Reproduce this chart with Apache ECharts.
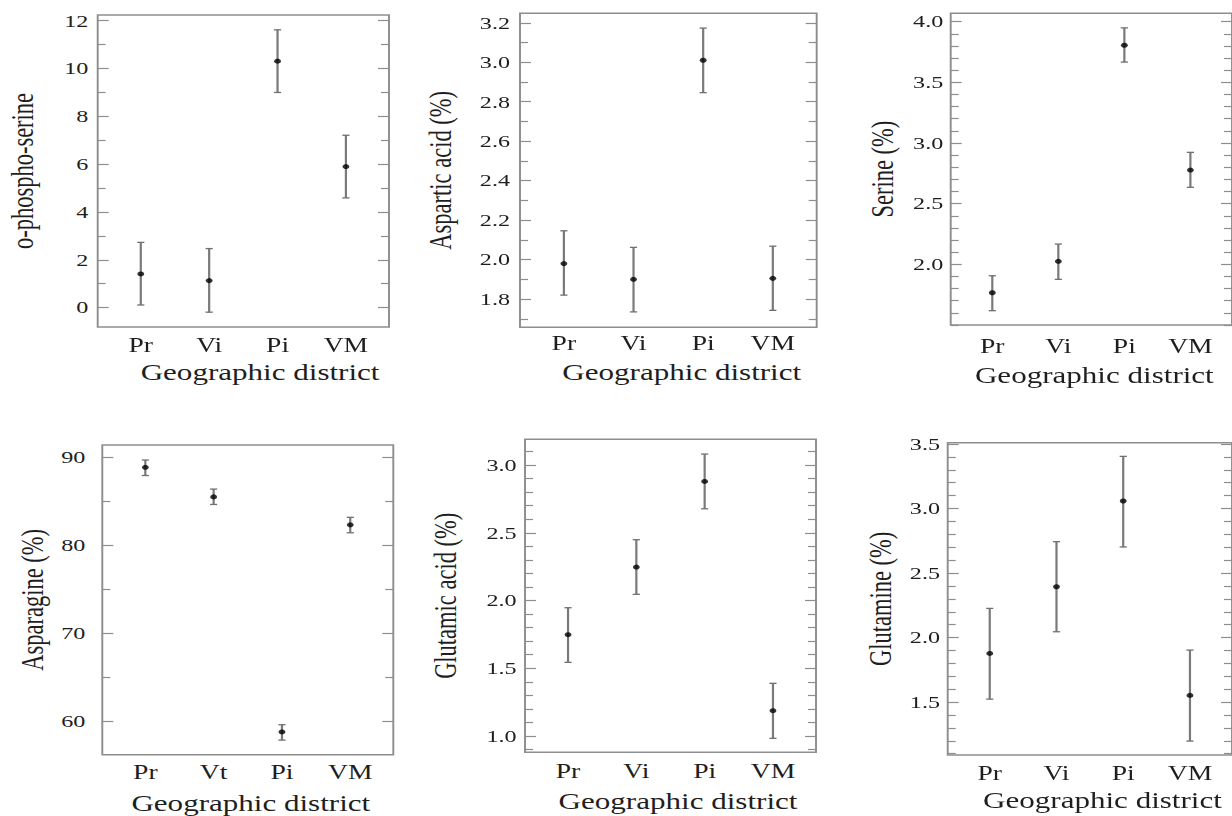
<!DOCTYPE html>
<html>
<head>
<meta charset="utf-8">
<script src="https://cdn.jsdelivr.net/npm/echarts@6/dist/echarts.min.js"></script>
<style>
  html, body { margin: 0; padding: 0; background: #fff; overflow: hidden; }
  #wrap { position: relative; width: 1232px; height: 816px; overflow: hidden; background: #fff; }
  #chart { position: absolute; left: 0; top: 0; height: 816px; transform-origin: 0 0; }
</style>
</head>
<body>
<div id="wrap"><div id="chart"></div></div>
<script>
// ---- data: mean and interval ends per geographic district ----
const districtsA = ['Pr', 'Vi', 'Pi', 'VM'];
const districtsB = ['Pr', 'Vt', 'Pi', 'VM'];

const phosphoSerineMean = [1.41, 1.13, 10.31, 5.90];
const phosphoSerineLow  = [0.11, -0.19, 9.00, 4.59];
const phosphoSerineHigh = [2.73, 2.47, 11.62, 7.21];
const phosphoSerineTicks = [0, 2, 4, 6, 8, 10, 12];

const asparticMean = [1.98, 1.90, 3.01, 1.905];
const asparticLow  = [1.82, 1.735, 2.846, 1.743];
const asparticHigh = [2.146, 2.062, 3.173, 2.068];
const asparticTicks = [1.8, 2.0, 2.2, 2.4, 2.6, 2.8, 3.0, 3.2];

const serineMean = [1.766, 2.025, 3.806, 2.777];
const serineLow  = [1.618, 1.876, 3.667, 2.635];
const serineHigh = [1.906, 2.167, 3.949, 2.923];
const serineTicks = [2.0, 2.5, 3.0, 3.5, 4.0];

const asparagineMean = [88.88, 85.52, 58.80, 82.34];
const asparagineLow  = [87.95, 84.66, 57.87, 81.44];
const asparagineHigh = [89.71, 86.41, 59.62, 83.20];
const asparagineTicks = [60, 70, 80, 90];

const glutamicMean = [1.748, 2.247, 2.879, 1.187];
const glutamicLow  = [1.544, 2.046, 2.677, 0.983];
const glutamicHigh = [1.947, 2.449, 3.081, 1.389];
const glutamicTicks = [1.0, 1.5, 2.0, 2.5, 3.0];

const glutamineMean = [1.877, 2.394, 3.058, 1.552];
const glutamineLow  = [1.523, 2.045, 2.702, 1.198];
const glutamineHigh = [2.226, 2.743, 3.404, 1.903];
const glutamineTicks = [1.5, 2.0, 2.5, 3.0, 3.5];

const xAxisTitle = 'Geographic district';

// ---- layout: the figure is drawn narrow and widened horizontally ----
const SX = 1.38;
const W = 1232, H = 816;

const panels = [
  { yName: 'o-phospho-serine', cats: districtsA, mean: phosphoSerineMean, low: phosphoSerineLow, high: phosphoSerineHigh,
    ticks: phosphoSerineTicks, minorStep: 1, dec: 0, yMin: -0.81, yMax: 12.24,
    frame: [97.7, 15, 389, 327], labelGap: 9.4, catGap: 12, nameGap: 38, nameShift: 16.7, yNameGap: 57.7 },
  { yName: 'Aspartic acid (%)', cats: districtsA, mean: asparticMean, low: asparticLow, high: asparticHigh,
    ticks: asparticTicks, minorStep: 0.1, dec: 1, yMin: 1.657, yMax: 3.248,
    frame: [520, 13.3, 816.7, 327.3], labelGap: 10, catGap: 9.4, nameGap: 37.7, nameShift: 13.4, yNameGap: 62 },
  { yName: 'Serine (%)', cats: districtsA, mean: serineMean, low: serineLow, high: serineHigh,
    ticks: serineTicks, minorStep: 0.1, dec: 1, yMin: 1.5, yMax: 4.069,
    frame: [950.7, 13.3, 1242, 325], labelGap: 7.4, catGap: 15, nameGap: 43, nameShift: 3, yNameGap: 50.7 },
  { yName: 'Asparagine (%)', cats: districtsB, mean: asparagineMean, low: asparagineLow, high: asparagineHigh,
    ticks: asparagineTicks, minorStep: 5, dec: 0, yMin: 56.2, yMax: 91.42,
    frame: [102.3, 445, 393.3, 759], labelGap: 17, catGap: 11, nameGap: 41, nameShift: 3, yNameGap: 52.3 },
  { yName: 'Glutamic acid (%)', cats: districtsA, mean: glutamicMean, low: glutamicLow, high: glutamicHigh,
    ticks: glutamicTicks, minorStep: 0.1, dec: 1, yMin: 0.88, yMax: 3.19,
    frame: [525, 439.3, 816, 752.3], labelGap: 8.3, catGap: 12.7, nameGap: 41.7, nameShift: 7.5, yNameGap: 61.7 },
  { yName: 'Glutamine (%)', cats: districtsA, mean: glutamineMean, low: glutamineLow, high: glutamineHigh,
    ticks: glutamineTicks, minorStep: 0.1, dec: 1, yMin: 1.09, yMax: 3.51,
    frame: [947.7, 442.7, 1238.7, 755], labelGap: 7.7, catGap: 11.7, nameGap: 38, nameShift: 12.6, yNameGap: 49.4 }
];

const FONT = '"Liberation Serif", "Times New Roman", serif';
const TEXT = '#1e1e1e';
const FRAME = '#8e8e8e';
const TICK_FONT = 17.5, CAT_FONT = 20, NAME_FONT = 22.5;
const MAJOR_LEN = 11 / SX, MINOR_LEN = 8 / SX;

function minorValues(p) {
  const out = [];
  const start = Math.ceil(p.yMin / p.minorStep - 1e-9);
  for (let k = start; k * p.minorStep <= p.yMax + 1e-9; k++) {
    const v = +(k * p.minorStep).toFixed(6);
    if (!p.ticks.some(t => Math.abs(t - v) < 1e-6)) out.push(v);
  }
  return out;
}

function errorBar(params, api) {
  const x = api.value(0);
  const lo = api.coord([x, api.value(1)]);
  const hi = api.coord([x, api.value(2)]);
  const cap = 2.6;
  const capStyle = { stroke: '#707070', lineWidth: 1.3 };
  return {
    type: 'group',
    children: [
      { type: 'line', shape: { x1: lo[0], y1: lo[1], x2: hi[0], y2: hi[1] }, style: { stroke: '#7a7a7a', lineWidth: 1.6 } },
      { type: 'line', shape: { x1: hi[0] - cap, y1: hi[1], x2: hi[0] + cap, y2: hi[1] }, style: capStyle },
      { type: 'line', shape: { x1: lo[0] - cap, y1: lo[1], x2: lo[0] + cap, y2: lo[1] }, style: capStyle }
    ]
  };
}

const grid = [], xAxis = [], yAxis = [], series = [];

panels.forEach((p, i) => {
  const [L, T, R, B] = p.frame;
  grid.push({
    left: L / SX, top: T, width: (R - L) / SX, height: B - T,
    show: true, borderColor: FRAME, borderWidth: 1.4, backgroundColor: 'transparent'
  });

  const cats = p.cats;
  xAxis.push({
    gridIndex: i, type: 'value', min: 0.37, max: 4.63,
    axisLine: { show: false }, axisTick: { show: false }, splitLine: { show: false },
    axisLabel: {
      customValues: [1, 2, 3, 4],
      formatter: v => cats[Math.round(v) - 1],
      fontFamily: FONT, fontSize: CAT_FONT, color: TEXT, margin: p.catGap - 3.4
    },
    name: xAxisTitle, nameLocation: 'middle', nameGap: p.nameGap - 3.8,
    nameTextStyle: { fontFamily: FONT, fontSize: NAME_FONT, color: TEXT, padding: [0, 0, 0, 2 * p.nameShift / SX] }
  });

  const minors = minorValues(p);
  const base = { gridIndex: i, type: 'value', min: p.yMin, max: p.yMax, splitLine: { show: false }, axisLine: { show: false } };
  const dec = p.dec;
  // left: major ticks with labels and the axis title
  yAxis.push(Object.assign({}, base, {
    position: 'left',
    axisTick: { show: true, inside: true, length: MAJOR_LEN, customValues: p.ticks, lineStyle: { color: FRAME, width: 1.2 } },
    axisLabel: { customValues: p.ticks, formatter: v => v.toFixed(dec), fontFamily: FONT, fontSize: TICK_FONT, color: TEXT, margin: p.labelGap / SX },
    name: p.yName, nameLocation: 'middle', nameGap: p.yNameGap / SX + 1,
    nameTextStyle: { fontFamily: FONT, fontSize: NAME_FONT, color: TEXT }
  }));
  // left: minor ticks
  yAxis.push(Object.assign({}, base, {
    position: 'left',
    axisTick: { show: true, inside: true, length: MINOR_LEN, customValues: minors, lineStyle: { color: FRAME, width: 1.2 } },
    axisLabel: { show: false }
  }));
  // right: mirrored major and minor ticks
  yAxis.push(Object.assign({}, base, {
    position: 'right',
    axisTick: { show: true, inside: true, length: MAJOR_LEN, customValues: p.ticks, lineStyle: { color: FRAME, width: 1.2 } },
    axisLabel: { show: false }
  }));
  yAxis.push(Object.assign({}, base, {
    position: 'right',
    axisTick: { show: true, inside: true, length: MINOR_LEN, customValues: minors, lineStyle: { color: FRAME, width: 1.2 } },
    axisLabel: { show: false }
  }));

  const yIdx = i * 4;
  series.push({
    type: 'custom', xAxisIndex: i, yAxisIndex: yIdx,
    renderItem: errorBar,
    encode: { x: 0, y: [1, 2] },
    data: p.mean.map((m, k) => [k + 1, p.low[k], p.high[k]]),
    silent: true, z: 2
  });
  series.push({
    type: 'scatter', xAxisIndex: i, yAxisIndex: yIdx,
    symbol: 'circle', symbolSize: 5,
    itemStyle: { color: '#000' },
    data: p.mean.map((m, k) => [k + 1, m]),
    silent: true, z: 3
  });
});

const el = document.getElementById('chart');
el.style.width = (W / SX) + 'px';
el.style.transform = 'scaleX(' + SX + ')';

const chart = echarts.init(el, null, { renderer: 'svg', width: W / SX, height: H });
chart.setOption({
  animation: false,
  backgroundColor: '#fff',
  grid, xAxis, yAxis, series
});
</script>
</body>
</html>
